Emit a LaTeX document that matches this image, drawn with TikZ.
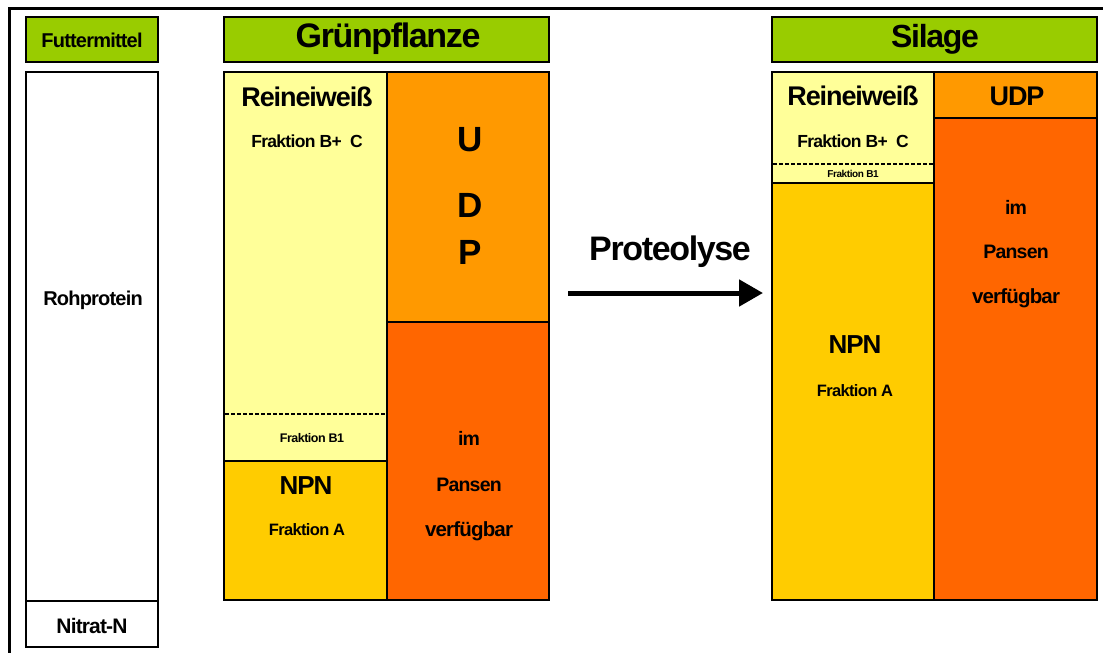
\documentclass[tikz,border=0pt]{standalone}
\usepackage{fontspec}
\setmainfont{Liberation Sans}[LetterSpace=-4]
\usetikzlibrary{arrows.meta}
\definecolor{hgreen}{HTML}{99CC00}
\definecolor{lyellow}{HTML}{FFFF99}
\definecolor{gold}{HTML}{FFCC00}
\definecolor{orangeA}{HTML}{FF9900}
\definecolor{orangeB}{HTML}{FF6600}
\newcommand\tsz[1]{\fontsize{#1}{#1}\selectfont\bfseries}
\begin{document}
\begin{tikzpicture}[x=1pt,y=-1pt,
  region/.style={draw=black,line width=2pt,anchor=north west,inner sep=0pt,outer sep=0pt},
  lbl/.style={inner sep=0pt,text=black},
  divline/.style={line width=1.2pt,dash pattern=on 4pt off 2pt}]
\useasboundingbox (0,0) rectangle (1103,653);
\fill[white] (0,0) rectangle (1103,653);
% outer frame
\coordinate (ftr) at (1110,8);
\coordinate (ftl) at (9,8);
\coordinate (fbl) at (9,660);
\draw[line width=3pt] (ftr) -- (ftl) -- (fbl);
% left column
\node[region,fill=hgreen,minimum width=132pt,minimum height=45pt] (fut) at (26,17) {};
\node[region,fill=white,minimum width=132pt,minimum height=529pt] (roh) at (26,72) {};
\node[region,fill=white,minimum width=132pt,minimum height=46pt] (nit) at (26,601) {};
% Gruenpflanze
\node[region,fill=hgreen,minimum width=325pt,minimum height=45pt] (ghead) at (224,17) {};
\node[region,fill=lyellow,minimum width=163pt,minimum height=389pt] (grein) at (224,72) {};
\node[region,fill=gold,minimum width=163pt,minimum height=139pt] (gnpn) at (224,461) {};
\node[region,fill=orangeA,minimum width=162pt,minimum height=250pt] (gudp) at (387,72) {};
\node[region,fill=orangeB,minimum width=162pt,minimum height=278pt] (gpan) at (387,322) {};
\coordinate (gd1) at (225,414);
\coordinate (gd2) at (386,414);
\draw[divline] (gd1) -- (gd2);
% Silage
\node[region,fill=hgreen,minimum width=325pt,minimum height=45pt] (shead) at (772,17) {};
\node[region,fill=lyellow,minimum width=162pt,minimum height=111pt] (srein) at (772,72) {};
\node[region,fill=gold,minimum width=162pt,minimum height=417pt] (snpn) at (772,183) {};
\node[region,fill=orangeA,minimum width=163pt,minimum height=46pt] (sudp) at (934,72) {};
\node[region,fill=orangeB,minimum width=163pt,minimum height=482pt] (span) at (934,118) {};
\coordinate (sd1) at (773,164);
\coordinate (sd2) at (933,164);
\draw[divline] (sd1) -- (sd2);
% arrow
\coordinate (a1) at (568,293);
\coordinate (a2) at (763,293);
\draw[line width=5pt,-{Triangle[length=24pt,width=26pt]}] (a1) -- (a2);
% labels
\node[lbl] (t1) at (92,40) {\tsz{20}Futtermittel};
\node[lbl] (t2) at (93,300) {\tsz{20}Rohprotein};
\node[lbl] (t3) at (92,626) {\tsz{21}Nitrat-N};
\node[lbl] (t4) at (388,39) {\tsz{34}Grünpflanze};
\node[lbl] (t5) at (935,39) {\tsz{32}Silage};
\node[lbl] (t6) at (307,97) {\tsz{27}Reineiweiß};
\node[lbl] (t7) at (307,141) {\tsz{17.5}Fraktion B+\ \ C};
\node[lbl] (t8) at (470,140) {\tsz{35}U};
\node[lbl] (t9) at (470,205) {\tsz{35}D};
\node[lbl] (t10) at (470,252) {\tsz{35}P};
\node[lbl] (t11) at (312,438) {\tsz{12.5}Fraktion B1};
\node[lbl] (t12) at (306,486) {\tsz{26}NPN};
\node[lbl] (t13) at (307,530) {\tsz{16.5}Fraktion A};
\node[lbl] (t14) at (469,438) {\tsz{19.5}im};
\node[lbl] (t15) at (469,485) {\tsz{19.5}Pansen};
\node[lbl] (t16) at (469,531) {\tsz{20.5}verfügbar};
\node[lbl] (t17) at (670,252) {\tsz{34}Proteolyse};
\node[lbl] (t18) at (853,96) {\tsz{27}Reineiweiß};
\node[lbl] (t19) at (1017,96) {\tsz{27}UDP};
\node[lbl] (t20) at (853,141) {\tsz{17.5}Fraktion B+\ \ C};
\node[lbl] (t21) at (853,174) {\tsz{10}Fraktion B1};
\node[lbl] (t22) at (855,345) {\tsz{26}NPN};
\node[lbl] (t23) at (855,391) {\tsz{16.5}Fraktion A};
\node[lbl] (t24) at (1016,207) {\tsz{19.5}im};
\node[lbl] (t25) at (1016,252) {\tsz{19.5}Pansen};
\node[lbl] (t26) at (1016,298) {\tsz{20.5}verfügbar};
\end{tikzpicture}
\end{document}
